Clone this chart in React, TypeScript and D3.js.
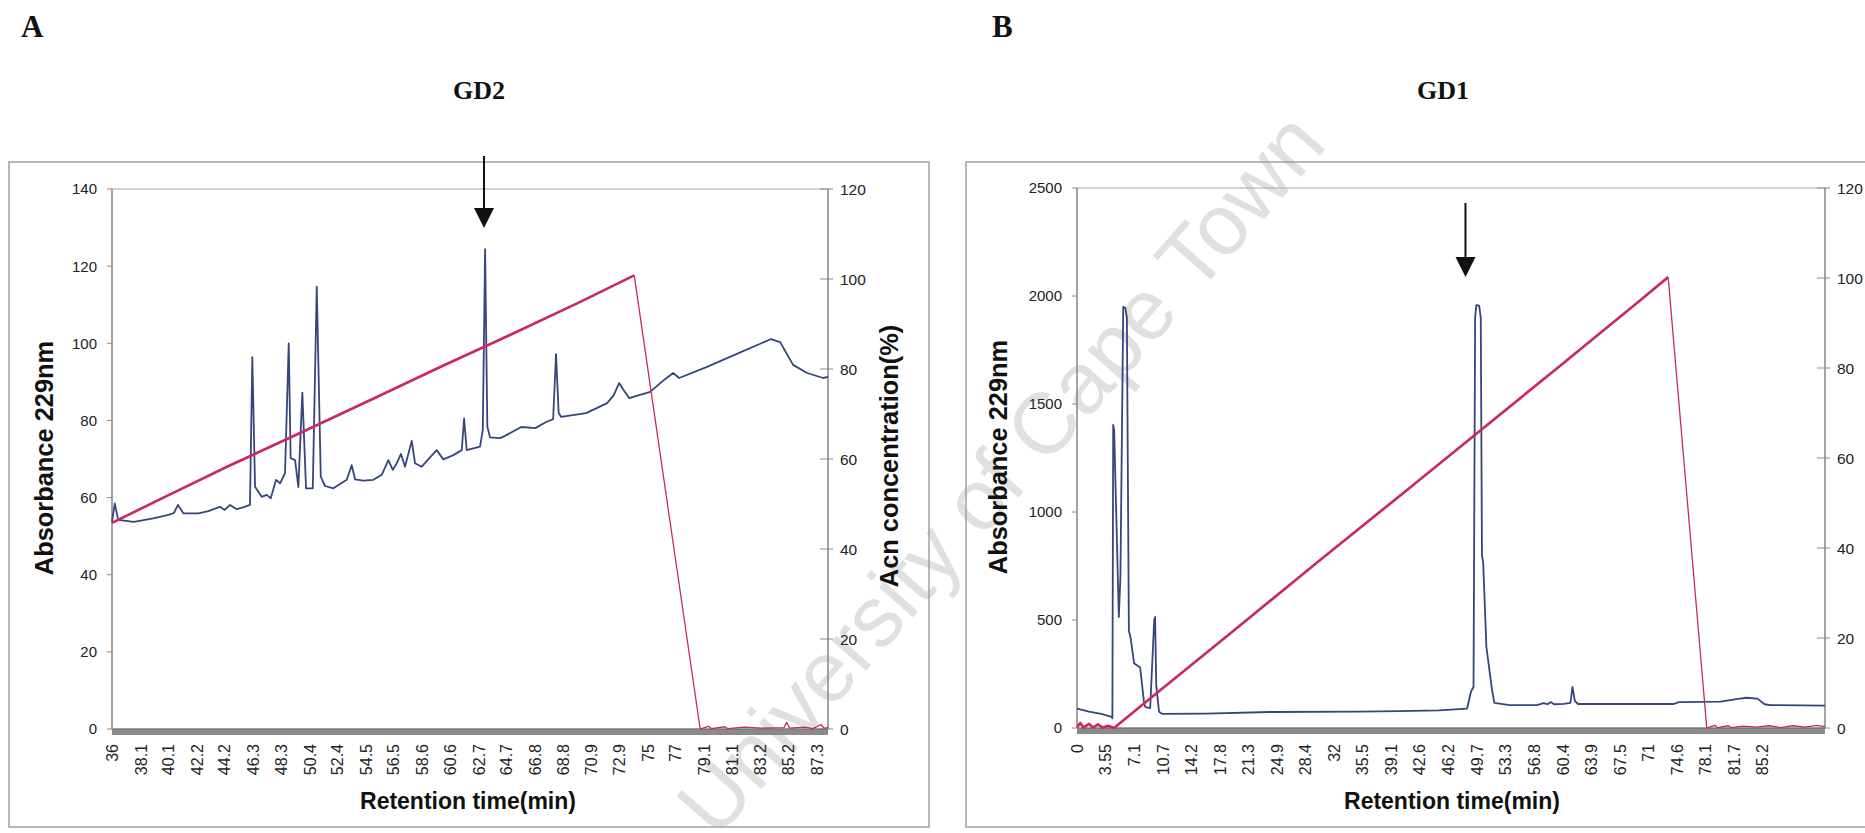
import React from "react";
import * as d3 from "d3";

type Pt = [number, number];

// ---------- Panel A (GD2) ----------
const gd2XLabels = ["36","38.1","40.1","42.2","44.2","46.3","48.3","50.4","52.4","54.5","56.5","58.6","60.6","62.7","64.7","66.8","68.8","70.9","72.9","75","77","79.1","81.1","83.2","85.2","87.3"];
const gd2AbsTicks = [0, 20, 40, 60, 80, 100, 120, 140];
const acnTicks = [0, 20, 40, 60, 80, 100, 120];

// absorbance 229nm (time min, value)
const gd2Absorbance: Pt[] = [
  [36.0, 53.7],[36.2, 58.5],[36.45, 54.2],[37.6, 53.7],[39.0, 54.6],[40.1, 55.5],[40.5, 56],[40.8, 58.1],[41.2, 55.9],[42.3, 55.9],
  [43.0, 56.5],[43.86, 57.6],[44.2, 56.8],[44.59, 58.1],[45.07, 57.0],[45.6, 57.5],[46.04, 58.1],[46.21, 96.4],[46.41, 62.8],
  [46.89, 60.2],[47.26, 60.7],[47.55, 59.8],[47.94, 64.6],[48.23, 63.7],[48.59, 66.3],[48.86, 100.0],[49.0, 70.2],[49.32, 69.7],
  [49.56, 62.7],[49.85, 87.2],[50.12, 62.4],[50.61, 62.4],[50.9, 114.7],[51.19, 65.4],[51.5, 63.0],[52.11, 62.4],[53.08, 64.6],
  [53.44, 68.4],[53.69, 64.7],[54.29, 64.4],[55.02, 64.6],[55.63, 65.9],[56.11, 69.7],[56.43, 67.2],[56.72, 68.9],[57.03, 71.3],
  [57.32, 68.0],[57.81, 74.7],[58.05, 68.9],[58.54, 68.0],[59.14, 70.4],[59.63, 72.3],[60.11, 69.9],[60.84, 71.0],[61.45, 72.3],
  [61.62, 80.5],[61.81, 72.3],[62.78, 73.2],[62.98, 77.5],[63.15, 124.4],[63.31, 78.4],[63.51, 75.6],[64.24, 75.4],[64.6, 76],
  [65.77, 78.3],[66.8, 78],[67.59, 79.6],[68.1, 80.3],[68.31, 97.2],[68.5, 82],[68.68, 80.9],[70.5, 81.9],[72.03, 84.5],
  [72.5, 86.5],[72.9, 89.7],[73.2, 88],[73.63, 85.8],[75.16, 87.4],[76.17, 90.5],[76.83, 92.3],[77.27, 91],[79.3, 93.9],
  [81.63, 97.5],[83.96, 101.1],[84.62, 100.3],[85.56, 94.4],[86.58, 92.3],[87.75, 91],[88.1, 91.3]
];
// acetonitrile concentration % (time min, value)
const gd2Acn: Pt[] = [
  [36.0, 45.8],[40.0, 51.8],[44.6, 58.6],[50.0, 66.2],[55.0, 73.4],[60.0, 80.6],[65.0, 87.6],[70.0, 94.8],[74.0, 100.8],
  [78.8, 0],[79.4, 0.6],[79.6, 0.1],[80.6, 0.5],[80.8, 0.1],[82.0, 0.4],[83.3, 0.2],[84.9, 0.3],[85.1, 1.5],[85.3, 0.2],
  [86.4, 0.4],[87.0, 0.1],[87.6, 1.0],[87.8, 0.2],[88.1, 0.3]
];

// ---------- Panel B (GD1) ----------
const gd1XLabels = ["0","3.55","7.1","10.7","14.2","17.8","21.3","24.9","28.4","32","35.5","39.1","42.6","46.2","49.7","53.3","56.8","60.4","63.9","67.5","71","74.6","78.1","81.7","85.2"];
const gd1AbsTicks = [0, 500, 1000, 1500, 2000, 2500];

const gd1Absorbance: Pt[] = [
  [0, 90],[1.5, 76],[3, 65],[4.3, 52],[4.4, 45],[4.5, 1403],[4.62, 1380],[5.2, 514],[5.4, 700],[5.75, 1950],[6.0, 1945],
  [6.2, 1900],[6.45, 450],[6.65, 420],[7.1, 300],[7.85, 280],[8.34, 116],[8.5, 97],[9.1, 92],[9.6, 500],[9.71, 514],
  [9.85, 200],[10.2, 75],[10.6, 65],[16, 67],[24, 74],[35, 76],[40, 78],[45, 82],[48.5, 90],[49.0, 170],[49.3, 190],
  [49.5, 1900],[49.65, 1958],[50.0, 1955],[50.2, 1900],[50.35, 800],[50.5, 764],[50.9, 375],[51.6, 176],[51.9, 116],
  [53.8, 106],[57.2, 106],[58.0, 115],[58.5, 110],[58.9, 120],[59.3, 110],[60.5, 112],[61.35, 116],[61.6, 190],[61.9, 125],
  [62.3, 111],[74.2, 111],[74.8, 120],[80, 122],[82.2, 135],[83.2, 140],[84.6, 136],[85.5, 110],[86.2, 106],[93, 104]
];
const gd1Acn: Pt[] = [
  [0, 0.2],[0.4, 1.1],[0.8, 0.1],[1.5, 0.9],[2.0, 0.1],[2.6, 0.8],[3.2, 0.1],[3.9, 0.5],[4.6, 0],[10, 7.9],[20, 22.4],
  [30, 37.0],[40, 51.4],[50, 65.9],[60, 80.4],[70, 95.0],[73.5, 100.2],[78.3, 0],[79.3, 0.6],[79.6, 0.1],[81.0, 0.5],
  [81.3, 0.1],[82.8, 0.4],[84.5, 0.2],[86.0, 0.5],[87.5, 0.1],[89.0, 0.5],[90.5, 0.2],[92.0, 0.6],[93, 0.3]
];

const SANS = "'Liberation Sans', Arial, Helvetica, sans-serif";
const SERIF = "'Liberation Serif', 'Times New Roman', serif";
const BLUE = "#34467c";
const RED = "#c92a5e";
const AXIS = "#8a8a8a";

interface PanelProps {
  frame: { x: number; y: number; w: number; h: number };
  l: number; r: number; t: number; b: number;
  xDomain: [number, number];
  yMax: number;
  yTicks: number[];
  xLabels: string[];
  absorbance: Pt[];
  acn: Pt[];
  letter: string; letterX: number;
  title: string; titleX: number;
  arrowT: number; arrowTop: number; arrowTip: number;
  absTitleX: number; showAcnTitle: boolean;
  xTitleX: number;
}

function Panel(p: PanelProps) {
  const x = d3.scaleLinear().domain(p.xDomain).range([p.l, p.r]);
  const y = d3.scaleLinear().domain([0, p.yMax]).range([p.b, p.t]);
  const y2 = d3.scaleLinear().domain([0, 120]).range([p.b, p.t]);
  const absLine = d3.line<Pt>().x((d) => x(d[0])).y((d) => y(d[1]));
  const acnLine = d3.line<Pt>().x((d) => x(d[0])).y((d) => y2(d[1]));
  const peakI = d3.maxIndex(p.acn, (d) => d[1]);
  const ramp = p.acn.slice(0, peakI + 1);
  const tail = p.acn.slice(peakI);
  const ax = x(p.arrowT);
  const midY = (p.t + p.b) / 2;
  return (
    <g>
      <rect x={p.frame.x} y={p.frame.y} width={p.frame.w} height={p.frame.h} fill="none" stroke="#9a9a9a" strokeWidth={1.4} />
      <text x={p.letterX} y={37} fontFamily={SERIF} fontWeight="bold" fontSize={31} fill="#111">{p.letter}</text>
      <text x={p.titleX} y={99} fontFamily={SERIF} fontWeight="bold" fontSize={26} fill="#111" textAnchor="middle">{p.title}</text>
      {/* plot area border */}
      <rect x={p.l} y={p.t} width={p.r - p.l} height={p.b - p.t} fill="none" stroke="#a5a5a5" strokeWidth={1} />
      {/* left axis */}
      <line x1={p.l} x2={p.l} y1={p.t} y2={p.b} stroke={AXIS} strokeWidth={1.3} />
      {p.yTicks.map((v) => (
        <g key={"yl" + v}>
          <line x1={p.l - 5} x2={p.l} y1={y(v)} y2={y(v)} stroke={AXIS} strokeWidth={1} />
          <text x={p.l - 15} y={y(v)} dy="0.36em" textAnchor="end" fontFamily={SANS} fontSize={15} fill="#222">{v}</text>
        </g>
      ))}
      {/* right axis */}
      <line x1={p.r} x2={p.r} y1={p.t} y2={p.b} stroke={AXIS} strokeWidth={1.3} />
      {acnTicks.map((v) => (
        <g key={"yr" + v}>
          <line x1={p.r - 8} x2={p.r + 5} y1={y2(v)} y2={y2(v)} stroke={AXIS} strokeWidth={1} />
          <text x={p.r + 12} y={y2(v)} dy="0.36em" textAnchor="start" fontFamily={SANS} fontSize={15.5} fill="#222">{v}</text>
        </g>
      ))}
      {/* bottom axis band */}
      <rect x={p.l} y={p.b} width={p.r - p.l} height={6} fill="#8a8a8a" />
      <line x1={p.l} x2={p.r} y1={p.b} y2={p.b} stroke="#6e6e6e" strokeWidth={1} />
      {p.xLabels.map((s) => (
        <text key={"xl" + s} transform={`translate(${x(+s)},744) rotate(-90)`} dy="0.36em" textAnchor="end" fontFamily={SANS} fontSize={16} fill="#222">{s}</text>
      ))}
      <text x={p.xTitleX} y={809} textAnchor="middle" fontFamily={SANS} fontWeight="bold" fontSize={23} fill="#111">Retention time(min)</text>
      <text transform={`translate(${p.absTitleX},${midY - 1}) rotate(-90)`} textAnchor="middle" fontFamily={SANS} fontWeight="bold" fontSize={25.4} fill="#111">Absorbance 229nm</text>
      {p.showAcnTitle && (
        <text transform={`translate(${p.r + 70},${midY - 3}) rotate(-90)`} textAnchor="middle" fontFamily={SANS} fontWeight="bold" fontSize={25.4} fill="#111">Acn concentration(%)</text>
      )}
      {/* data */}
      <path d={absLine(p.absorbance) || ""} fill="none" stroke={BLUE} strokeWidth={1.8} strokeLinejoin="round" />
      <path d={acnLine(ramp) || ""} fill="none" stroke={RED} strokeWidth={2.7} strokeLinejoin="round" />
      <path d={acnLine(tail) || ""} fill="none" stroke={RED} strokeWidth={1.3} strokeLinejoin="round" />
      {/* arrow */}
      <line x1={ax} x2={ax} y1={p.arrowTop} y2={p.arrowTip - 18} stroke="#111" strokeWidth={2} />
      <path d={`M${ax - 10},${p.arrowTip - 20} L${ax + 10},${p.arrowTip - 20} L${ax},${p.arrowTip} Z`} fill="#111" />
    </g>
  );
}

export default function App() {
  return (
    <svg width={1865} height={833} style={{ position: "absolute", left: 0, top: 0, background: "#fff" }}>
      <rect x={0} y={0} width={1865} height={833} fill="#fff" />
      <text
        transform="translate(1000,473) rotate(-48.6)"
        textAnchor="middle"
        dy="0.35em"
        fontFamily={SANS}
        fontSize={86}
        fill="#e0e0e0"
      >
        University of Cape Town
      </text>
      <Panel
        frame={{ x: 9, y: 162, w: 920, h: 665 }}
        l={112} r={828} t={189} b={729}
        xDomain={[36, 88.1]}
        yMax={140}
        yTicks={gd2AbsTicks}
        xLabels={gd2XLabels}
        absorbance={gd2Absorbance}
        acn={gd2Acn}
        letter="A" letterX={21}
        title="GD2" titleX={479}
        arrowT={63.07} arrowTop={156} arrowTip={228}
        absTitleX={53} showAcnTitle={true}
        xTitleX={468}
      />
      <Panel
        frame={{ x: 966, y: 162, w: 1000, h: 665 }}
        l={1077} r={1825} t={188} b={728}
        xDomain={[0, 93]}
        yMax={2500}
        yTicks={gd1AbsTicks}
        xLabels={gd1XLabels}
        absorbance={gd1Absorbance}
        acn={gd1Acn}
        letter="B" letterX={992}
        title="GD1" titleX={1443}
        arrowT={48.3} arrowTop={203} arrowTip={277}
        absTitleX={1007} showAcnTitle={false}
        xTitleX={1452}
      />
    </svg>
  );
}
